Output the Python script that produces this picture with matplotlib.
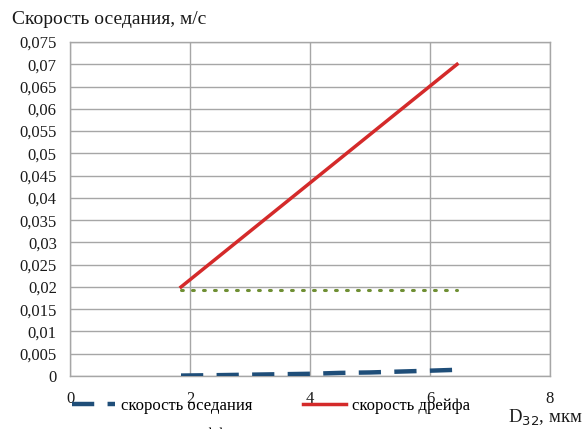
import matplotlib
matplotlib.use("Agg")
import matplotlib.pyplot as plt
from matplotlib.ticker import MultipleLocator, FuncFormatter

# Particle diameter D32 (um) and velocities (m/s)
d_settle = [1.85, 2.5, 3.0, 3.5, 4.0, 4.5, 5.0, 5.5, 6.0, 6.45]
v_settle = [0.0001, 0.0002, 0.0003, 0.0004, 0.0005, 0.0007, 0.0008, 0.0010, 0.0012, 0.0014]

d_drift = [1.85, 6.45]
v_drift = [0.0200, 0.0700]

d_diff = [1.85, 6.45]
v_diff = [0.0193, 0.0193]

labels = ["скорость оседания", "скорость дрейфа", "скорость диффузии"]

plt.rcParams["font.family"] = ["Liberation Serif", "DejaVu Serif"]

fig = plt.figure(figsize=(5.85, 4.29), dpi=100)
ax = fig.add_axes([0.1197, 0.1235, 0.8205, 0.7785])

h_settle, = ax.plot(d_settle, v_settle, color="#1f4e79", lw=3.2, dashes=(5, 3),
                    label=labels[0], zorder=3)
h_drift, = ax.plot(d_drift, v_drift, color="#d42a2a", lw=2.5, label=labels[1], zorder=3)
h_diff, = ax.plot(d_diff, v_diff, color="#6f8f33", lw=2.2, linestyle=(0, (0.6, 3.0)),
                  dash_capstyle="round", label=labels[2], zorder=3)

ax.set_xlim(0, 8)
ax.set_ylim(0, 0.075)
ax.xaxis.set_major_locator(MultipleLocator(2))
ax.yaxis.set_major_locator(MultipleLocator(0.005))


def comma_fmt(v, pos):
    if abs(v) < 1e-12:
        return "0"
    s = f"{v:.3f}".rstrip("0")
    return s.replace(".", ",")


ax.yaxis.set_major_formatter(FuncFormatter(comma_fmt))
ax.xaxis.set_major_formatter(FuncFormatter(lambda v, p: f"{v:.0f}"))

ax.grid(True, color="#a6a6a6", lw=1)
ax.set_axisbelow(True)
for sp in ax.spines.values():
    sp.set_color("#a6a6a6")
    sp.set_linewidth(1)

ax.tick_params(axis="both", length=0, labelsize=12, colors="#1a1a1a")
ax.tick_params(axis="y", pad=9.5)
ax.tick_params(axis="x", pad=11)

fig.text(0.02, 0.955, "Скорость оседания, м/с", fontsize=14,
         ha="left", va="center", color="#1a1a1a")
fig.text(0.997, 0.025, "D$_{32}$, мкм", fontsize=13.5, ha="right",
         va="center", color="#1a1a1a")

# legend filled column-wise: first column = settling, diffusion; second = drift
fig.legend([h_settle, h_diff, h_drift], [labels[0], labels[2], labels[1]],
           loc="upper left", bbox_to_anchor=(0.123, 0.072), ncol=2,
           frameon=False, fontsize=12, handlelength=2.6, handletextpad=0.35,
           columnspacing=2.6, labelspacing=0.75, borderpad=0, borderaxespad=0)

fig.savefig("out.png", dpi=100)
